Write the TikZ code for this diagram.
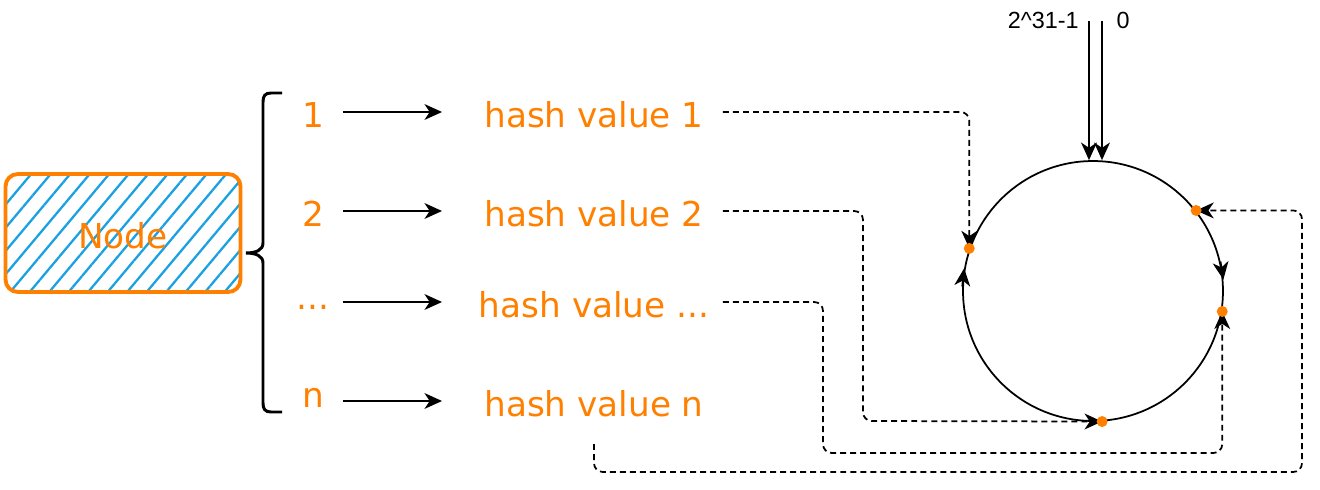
\documentclass[tikz,border=0pt]{standalone}
\usepackage{fontspec}
\setmainfont{DejaVu Sans}
\newfontfamily\arialfont{Liberation Sans}
\usetikzlibrary{arrows.meta,patterns.meta}
\definecolor{hashorange}{HTML}{FF8000}
\definecolor{hatchblue}{HTML}{1BA1E2}

\tikzset{
  orangetext/.style={text=hashorange,font=\fontsize{19.5}{23}\selectfont,text height=18pt,text depth=0pt},
  arrowline/.style={line width=1pt,-{Stealth[length=10pt,width=9pt,inset=3pt]}},
  hashlink/.style={arrowline,dash pattern=on 3.4pt off 2.3pt,rounded corners=5pt}
}

\begin{document}
\begin{tikzpicture}[x=0.02cm,y=-0.02cm]
\useasboundingbox (0,0) rectangle (1320,490);

\node[draw=hashorange,line width=2.2pt,rounded corners=7pt,
  pattern={Lines[angle=50,distance=8.5pt,line width=1.3pt]},pattern color=hatchblue,
  minimum width=4.7cm,minimum height=2.36cm,orangetext] (physical) at (123,233) {Node};

% brace
\coordinate (bracetip) at (246,253);
\draw[line width=1.7pt] (282,93) -- (271,93) .. controls (265,93) and (263,96) .. (263,102)
  -- (263,243) .. controls (263,250) and (256,253) .. (bracetip)
  .. controls (256,253) and (263,256) .. (263,263)
  -- (263,403) .. controls (263,409) and (265,412) .. (271,412) -- (282,412);

\node[orangetext] (k1) at (313,112) {1};
\node[orangetext] (k2) at (313,211) {2};
\node[orangetext] (k3) at (313,294) {...};
\node[orangetext] (k4) at (313,392) {n};

\node[orangetext] (h1) at (594,112) {hash value 1};
\node[orangetext] (h2) at (594,211) {hash value 2};
\node[orangetext] (h3) at (594,302) {hash value ...};
\node[orangetext] (h4) at (594,401) {hash value n};

\draw[arrowline,shorten <=0.6cm,shorten >=3.04cm] (k1.center |- h1.center) -- (h1.center);
\draw[arrowline,shorten <=0.6cm,shorten >=3.04cm] (k2.center |- h2.center) -- (h2.center);
\draw[arrowline,shorten <=0.6cm,shorten >=3.04cm] (k3.center |- h3.center) -- (h3.center);
\draw[arrowline,shorten <=0.6cm,shorten >=3.04cm] (k4.center |- h4.center) -- (h4.center);

% hash ring
\node[circle,draw,line width=1pt,minimum size=5.2cm,inner sep=0pt] (ring) at (1093,291) {};
\draw[arrowline] (ring.178) -- (ring.170.3);
\draw[arrowline] (ring.13) -- (ring.5.7);

\coordinate (maxtop) at (1089,21);
\coordinate (zerotop) at (1102,21);
\draw[arrowline] (maxtop) -- (maxtop |- ring.north);
\draw[arrowline] (zerotop) -- (zerotop |- ring.north);
\node[font=\arialfont\fontsize{13.3}{16}\selectfont,anchor=east,inner sep=0pt] (maxlabel) at (1079,20) {2\textasciicircum 31-1};
\node[font=\arialfont\fontsize{13.3}{16}\selectfont,inner sep=0pt] (zerolabel) at (1123,20) {0};

\coordinate (d1) at (ring.161.7);
\coordinate (d2) at (ring.-86);
\coordinate (d3) at (ring.-9.7);
\coordinate (d4) at (ring.38.4);
\coordinate (bend2) at (863,421);
\coordinate (bend3) at (823,453);
\coordinate (bend4) at (1302,472);

\draw[hashlink] ([xshift=2.58cm]h1.center) -| (d1);
\draw[hashlink] ([xshift=2.58cm]h2.center) -| (bend2) -- (d2);
\draw[hashlink] ([xshift=2.58cm]h3.center) -| (bend3) -| (d3);
\draw[hashlink,shorten <=0.42cm] (h4.south) |- (bend4) |- (d4);

\fill[hashorange] (d1) circle[radius=5.5];
\fill[hashorange] (d2) circle[radius=5.5];
\fill[hashorange] (d3) circle[radius=5.5];
\fill[hashorange] (d4) circle[radius=5.5];

\end{tikzpicture}
\end{document}
